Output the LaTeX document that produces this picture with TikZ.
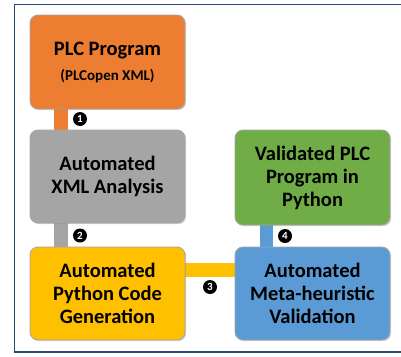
\documentclass[tikz,border=0pt]{standalone}
\usepackage{fontspec}
\setmainfont{Carlito}
\usetikzlibrary{shadows}
\definecolor{cOrange}{HTML}{ED7D31}
\definecolor{cGray}{HTML}{A5A5A5}
\definecolor{cGreen}{HTML}{70AD47}
\definecolor{cYellow}{HTML}{FFC000}
\definecolor{cBlue}{HTML}{5B9BD5}
\definecolor{cFrame}{HTML}{2B4576}
\tikzset{
  stage/.style={rounded corners=8pt, draw=black!35, line width=0.9pt,
    minimum width=155pt, align=center, font=\bfseries\fontsize{20.5}{23}\selectfont,
    drop shadow={opacity=0.35, shadow xshift=1.2pt, shadow yshift=-1.2pt}},
  link/.style={line width=13.5pt},
  num/.style={circle, fill=black, text=white, inner sep=0pt, minimum size=14pt,
    font=\bfseries\fontsize{11}{11}\selectfont},
}
\begin{document}
\begin{tikzpicture}[x=1pt,y=-1pt]
\useasboundingbox (0,0) rectangle (401,356);
\draw[cFrame, line width=1.6pt] (410,4.5) -- (14.5,4.5) -- (14.5,352) -- (410,352);
% bars
\draw[link, cOrange] (61,108) -- (61,131);
\draw[link, cGray] (61,222) -- (61,248);
\draw[link, cBlue] (266.5,224) -- (266.5,248);
\draw[link, cYellow] (184,270) -- (236,270);
% boxes
\node[stage, fill=cOrange, minimum height=94pt] (plc) at (107.5,62)
  {PLC Program\\[2pt]{\fontsize{15}{17}\selectfont (PLCopen XML)}};
\node[stage, fill=cGray, minimum height=93pt] (xml) at (107.5,176.5)
  {Automated\\XML Analysis};
\node[stage, fill=cGreen, minimum height=95pt] (pyth) at (312.5,177.5)
  {Validated PLC\\Program in\\Python};
\node[stage, fill=cYellow, minimum height=93pt] (gen) at (107.5,293.5)
  {Automated\\Python Code\\Generation};
\node[stage, fill=cBlue, minimum height=93pt] (val) at (312.5,293.5)
  {Automated\\Meta-heuristic\\Validation};
% numbers
\node[num] (n1) at (80,119) {1};
\node[num] (n2) at (80,235.5) {2};
\node[num] (n3) at (210,287) {3};
\node[num] (n4) at (285,236) {4};
\end{tikzpicture}
\end{document}
